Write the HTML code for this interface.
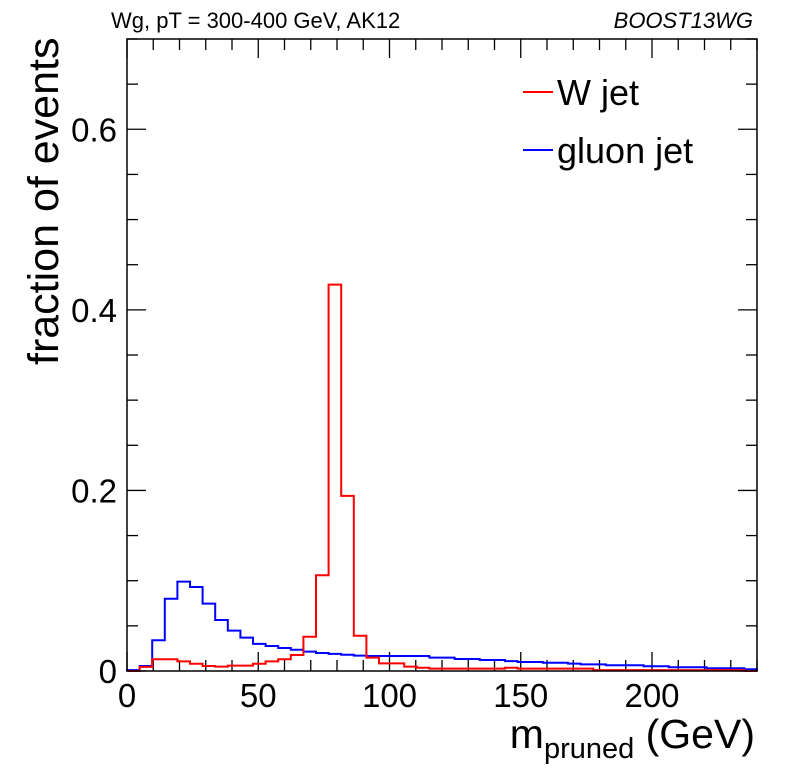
<!DOCTYPE html>
<html><head><meta charset="utf-8"><style>
body{margin:0;background:#fff}
svg{display:block;font-family:"Liberation Sans",sans-serif}
</style></head><body>
<svg id="chart" width="796" height="772" viewBox="0 0 796 772">
<text x="111" y="28" font-size="22">Wg, pT = 300-400 GeV, AK12</text>
<text x="753" y="28" font-size="22" font-style="italic" text-anchor="end">BOOST13WG</text>
<g id="axes"></g>
<g id="series"></g>
<rect x="127" y="39" width="630" height="632" fill="none" stroke="#000" stroke-width="1.5"/>
<g>
<line x1="523" x2="553" y1="92" y2="92" stroke="#ff0000" stroke-width="2"/>
<text x="557" y="105" font-size="36">W jet</text>
<line x1="523" x2="553" y1="150" y2="150" stroke="#0000ff" stroke-width="2"/>
<text x="557" y="163" font-size="36">gluon jet</text>
</g>
<text transform="translate(58,365) rotate(-90)" font-size="43" text-anchor="start">fraction of events</text>
<text x="755" y="748" font-size="41" text-anchor="end">m<tspan font-size="29" dy="10">pruned</tspan><tspan dy="-10"> (GeV)</tspan></text>
</svg>
<script>
const binEdgesMax = 240;
const nBins = 50;
const wJet = [0,0.0045,0.013,0.013,0.0107,0.008,0.0055,0.0048,0.006,0.006,0.008,0.0107,0.013,0.0177,0.038,0.106,0.428,0.194,0.039,0.0148,0.0085,0.0085,0.0048,0.0036,0.0026,0.0026,0.0026,0.0026,0.0026,0.0026,0.0036,0.0026,0.0026,0.0026,0.0026,0.0026,0.0026,0.001,0.001,0.001,0.001,0.001,0.001,0.001,0.001,0.001,0.001,0.001,0.001,0];
const gluonJet = [0.001,0.0055,0.034,0.080,0.099,0.093,0.0746,0.0565,0.0447,0.037,0.030,0.0277,0.0255,0.0236,0.0214,0.020,0.019,0.018,0.017,0.0166,0.0166,0.0166,0.0166,0.0166,0.0148,0.0148,0.0133,0.0133,0.0122,0.0122,0.011,0.010,0.010,0.0092,0.0092,0.0081,0.0074,0.0074,0.0063,0.0063,0.0063,0.0052,0.0052,0.0041,0.0041,0.0041,0.003,0.003,0.003,0.002];
const xTicks = [0,50,100,150,200];
const yTicks = [0,0.2,0.4,0.6];
const yTickLabels = ["0","0.2","0.4","0.6"];
const X0=127,X1=757,Y0=671,Y1=39;
const xs = v => X0 + v/240*(X1-X0);
const ys = v => Y0 - v/0.7*(Y0-Y1);
const NS="http://www.w3.org/2000/svg";
const axes=document.getElementById('axes');
function ln(x1,y1,x2,y2,name){const l=document.createElementNS(NS,'line');
l.setAttribute('x1',x1);l.setAttribute('y1',y1);l.setAttribute('x2',x2);l.setAttribute('y2',y2);
l.setAttribute('stroke','#000');l.setAttribute('stroke-width','1.3');


axes.appendChild(l);}
for(let v=0;v<=240;v+=10){const x=xs(v);const L=(v%50===0)?19:11;
ln(x,Y0,x,Y0-L,'x-tick');ln(x,Y1,x,Y1+L,'x-tick-top');}
for(let i=0;i<=14;i++){const v=i*0.05;const y=ys(v);const L=(i%4===0)?19:11;
ln(X0,y,X0+L,y,'y-tick');ln(X1,y,X1-L,y,'y-tick-right');}
xTicks.forEach(v=>{const t=document.createElementNS(NS,'text');
t.setAttribute('x',xs(v));t.setAttribute('y',707);t.setAttribute('font-size','33');t.setAttribute('text-anchor','middle');


t.textContent=v;axes.appendChild(t);});
yTicks.forEach((v,i)=>{const t=document.createElementNS(NS,'text');
t.setAttribute('x',117);t.setAttribute('y',ys(v)+12);t.setAttribute('font-size','33');t.setAttribute('text-anchor','end');


t.textContent=yTickLabels[i];axes.appendChild(t);});
function hist(vals,color,name){const w=binEdgesMax/nBins;let d='M'+xs(0)+','+ys(0);
vals.forEach((v,i)=>{d+=' L'+xs(i*w)+','+ys(v)+' L'+xs((i+1)*w)+','+ys(v);});
d+=' L'+xs(binEdgesMax)+','+ys(0);
const p=document.createElementNS(NS,'path');p.setAttribute('d',d);p.setAttribute('fill','none');
p.setAttribute('stroke',color);p.setAttribute('stroke-width','2');


document.getElementById('series').appendChild(p);}
hist(gluonJet,'#0000ff','gluon-jet-hist');
hist(wJet,'#ff0000','w-jet-hist');
</script>
</body></html>
